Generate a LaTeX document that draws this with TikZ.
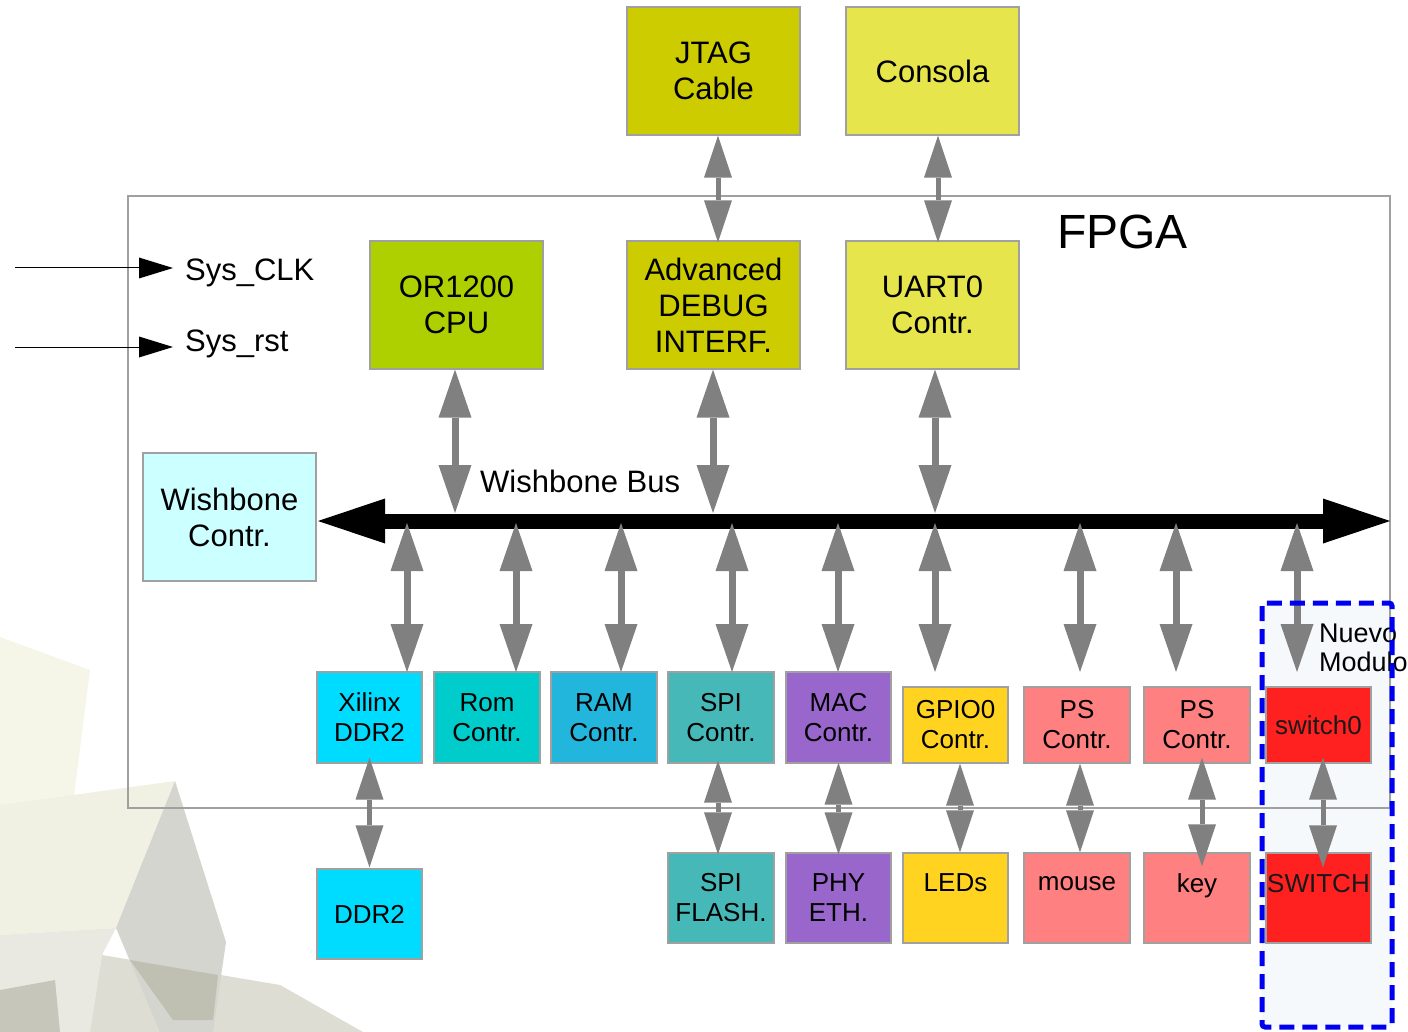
\documentclass[tikz,border=0pt]{standalone}
\usepackage{fontspec}
\setmainfont{Liberation Sans}
\usetikzlibrary{arrows.meta}
\definecolor{jtagc}{RGB}{204,204,0}
\definecolor{consc}{RGB}{230,230,76}
\definecolor{cpuc}{RGB}{174,207,0}
\definecolor{wbcc}{RGB}{204,255,255}
\definecolor{ddrc}{RGB}{0,220,255}
\definecolor{romc}{RGB}{0,204,204}
\definecolor{ramc}{RGB}{35,182,220}
\definecolor{spic}{RGB}{71,184,184}
\definecolor{macc}{RGB}{153,102,204}
\definecolor{gpioc}{RGB}{255,211,32}
\definecolor{psc}{RGB}{255,128,128}
\definecolor{swc}{RGB}{255,32,32}
\definecolor{arrc}{RGB}{128,128,128}
\definecolor{linec}{RGB}{160,160,160}
\definecolor{nuevofill}{RGB}{245,249,251}
\definecolor{nuevoline}{RGB}{0,0,240}
\definecolor{bgA}{RGB}{245,245,232}
\definecolor{bgB}{RGB}{241,241,227}
\definecolor{bgC}{RGB}{212,213,206}
\definecolor{bgD}{RGB}{221,221,211}
\definecolor{bgE}{RGB}{191,191,178}
\definecolor{bgF}{RGB}{198,198,186}
\definecolor{bgG}{RGB}{233,233,225}
\newcommand\fbig{\fontsize{31pt}{36pt}\selectfont}
\newcommand\fsmall{\fontsize{26pt}{30pt}\selectfont}
\begin{document}
\begin{tikzpicture}[x=1pt,y=-1pt,
  box/.style={draw=linec,line width=1.2pt,inner sep=0pt,align=center},
  bigbox/.style={box,font=\fbig,minimum width=173pt,minimum height=128pt},
  smallbox/.style={box,font=\fsmall,minimum width=106pt},
  busarr/.style={line width=15pt,black,{Triangle[length=67pt,width=45pt,line width=0pt]}-{Triangle[length=67pt,width=45pt,line width=0pt]}},
  bigarr/.style={line width=7pt,arrc,{Triangle[length=48pt,width=33pt,line width=0pt]}-{Triangle[length=48pt,width=33pt,line width=0pt]}},
  smallarr/.style={line width=5pt,arrc,{Triangle[length=42pt,width=28pt,line width=0pt]}-{Triangle[length=42pt,width=28pt,line width=0pt]}},
  sigarr/.style={line width=1pt,black,-{Triangle[length=34pt,width=21pt,line width=0pt]}},
  lbl/.style={inner sep=0pt,font=\fbig}]
\useasboundingbox (0,0) rectangle (1408,1032);
% decorative background
\fill[bgA] (0,637) -- (90,670) -- (62,891) -- (0,880) -- cycle;
\fill[bgB] (0,805) -- (175,781) -- (116,928) -- (0,935) -- cycle;
\fill[bgG] (0,935) -- (116,928) -- (102,955) -- (90,1032) -- (0,1032) -- cycle;
\fill[bgD] (102,955) -- (280,985) -- (363,1032) -- (90,1032) -- cycle;
\fill[bgC] (175,781) -- (226,942) -- (213,1032) -- (160,1032) -- (116,928) -- cycle;
\fill[bgE] (130,960) -- (218,975) -- (213,1020) -- (173,1020) -- cycle;
\fill[bgF] (0,990) -- (55,980) -- (60,1032) -- (0,1032) -- cycle;
% nuevo modulo fill
\fill[nuevofill] (1262,603) rectangle (1392,1027);
% FPGA
\node[draw=linec,line width=1.2pt,minimum width=1262pt,minimum height=612pt,inner sep=0pt] (fpga) at (759,502) {};
\node[inner sep=0pt,font=\fontsize{48pt}{54pt}\selectfont,anchor=base west] (fpgalbl) at (1057,249) {FPGA};
% top boxes
\node[bigbox,fill=jtagc] (jtag) at (713.5,71) {JTAG\\Cable};
\node[bigbox,fill=consc] (consola) at (932.5,71) {Consola};
\node[bigbox,fill=cpuc] (cpu) at (456.5,305) {OR1200\\CPU};
\node[bigbox,fill=jtagc] (debug) at (713.5,305) {Advanced\\DEBUG\\INTERF.};
\node[bigbox,fill=consc] (uart) at (932.5,305) {UART0\\Contr.};
\node[bigbox,fill=wbcc] (wbc) at (229.5,517) {Wishbone\\Contr.};
% row 2
\node[smallbox,fill=ddrc,minimum height=91pt,minimum width=105pt] (xddr) at (369.5,717.5) {Xilinx\\DDR2};
\node[smallbox,fill=romc,minimum height=91pt] (rom) at (487,717.5) {Rom\\Contr.};
\node[smallbox,fill=ramc,minimum height=91pt] (ram) at (604,717.5) {RAM\\Contr.};
\node[smallbox,fill=spic,minimum height=91pt] (spi) at (721,717.5) {SPI\\Contr.};
\node[smallbox,fill=macc,minimum height=91pt,minimum width=105pt] (mac) at (838.5,717.5) {MAC\\Contr.};
\node[smallbox,fill=gpioc,minimum height=76pt,minimum width=105pt] (gpio) at (955.5,725) {GPIO0\\Contr.};
\node[smallbox,fill=psc,minimum height=76pt] (ps1) at (1077,725) {PS\\Contr.};
\node[smallbox,fill=psc,minimum height=76pt] (ps2) at (1197,725) {PS\\Contr.};
\node[smallbox,fill=swc,minimum height=76pt,minimum width=105pt,text=black!90] (sw0) at (1318.5,725) {switch0};
% row 3
\node[smallbox,fill=ddrc,minimum height=90pt,minimum width=105pt] (ddr) at (369.5,914) {DDR2};
\node[smallbox,fill=spic,minimum height=90pt] (spiflash) at (721,898) {SPI\\FLASH.};
\node[smallbox,fill=macc,minimum height=90pt,minimum width=105pt] (phy) at (838.5,898) {PHY\\ETH.};
\node[smallbox,fill=gpioc,minimum height=90pt,minimum width=105pt] (leds) at (955.5,898) {LEDs\\\mbox{}};
\node[smallbox,fill=psc,minimum height=90pt] (mouse) at (1077,898) {mouse\\\mbox{}};
\node[smallbox,fill=psc,minimum height=90pt] (key) at (1197,898) {key\\\mbox{}};
\node[smallbox,fill=swc,minimum height=90pt,minimum width=105pt,text=black!90] (switch) at (1318.5,898) {SWITCH\\\mbox{}};
% labels
\node[lbl,anchor=base west] (sysclk) at (185,280) {Sys\_CLK};
\node[lbl,anchor=base west] (sysrst) at (185,351) {Sys\_rst};
\node[lbl,anchor=base west] (wbbus) at (480,492) {Wishbone Bus};
\node[inner sep=0pt,font=\fontsize{27pt}{29pt}\selectfont,align=left,anchor=west] (nuevo) at (1319,648) {Nuevo\\Modulo};
% signal inputs
\coordinate (clkin) at (15,268);
\coordinate (clkend) at (173,268);
\coordinate (rstin) at (15,347);
\coordinate (rstend) at (173,347);
\draw[sigarr] (clkin) -- (clkend);
\draw[sigarr] (rstin) -- (rstend);
% bus
\coordinate (busL) at (318,521);
\coordinate (busR) at (1390,521);
\draw[busarr] (busL) -- (busR);
% upper arrows to bus
\coordinate (bu1) at (455,513);
\coordinate (bu2) at (713,513);
\coordinate (bu3) at (935,513);
\draw[bigarr] (cpu.south -| bu1) -- (bu1);
\draw[bigarr] (debug.south -| bu2) -- (bu2);
\draw[bigarr] (uart.south -| bu3) -- (bu3);
% external top arrows
\draw[smallarr] ([xshift=4.5pt]jtag.south) -- ([xshift=4.5pt,yshift=-2pt]debug.north);
\draw[smallarr] ([xshift=5.5pt]consola.south) -- ([xshift=5.5pt,yshift=-2pt]uart.north);
% lower bus arrows
\foreach \n/\x in {a/407,b/516,c/621,d/732,e/838,f/935,g/1080,h/1176,i/1297}{
  \coordinate (bt\n) at (\x,523);
  \coordinate (bd\n) at (\x,672);
}
\draw[bigarr] (bta) -- (bda);
\draw[bigarr] (btb) -- (bdb);
\draw[bigarr] (btc) -- (bdc);
\draw[bigarr] (btd) -- (bdd);
\draw[bigarr] (bte) -- (bde);
\draw[bigarr] (btf) -- (bdf);
\draw[bigarr] (btg) -- (bdg);
\draw[bigarr] (bth) -- (bdh);
\draw[bigarr] (bti) -- (bdi);
% bottom arrows
\draw[smallarr] ([yshift=6pt]xddr.south) -- ([yshift=1pt]ddr.north);
\draw[smallarr] ([xshift=-3pt,yshift=3pt]spi.south) -- ([xshift=-3pt,yshift=-2pt]spiflash.north);
\draw[smallarr] ([yshift=1pt]mac.south) -- ([yshift=-2pt]phy.north);
\draw[smallarr] ([xshift=4.5pt]gpio.south) -- ([xshift=4.5pt]leds.north);
\draw[smallarr] ([xshift=3pt]ps1.south) -- ([xshift=3pt]mouse.north);
\draw[smallarr] ([xshift=5pt,yshift=6pt]ps2.south) -- ([xshift=5pt,yshift=-14pt]key.north);
\draw[smallarr] ([xshift=4.5pt,yshift=6pt]sw0.south) -- ([xshift=4.5pt,yshift=-15pt]switch.north);
% nuevo modulo border
\draw[nuevoline,line width=5pt,dash pattern=on 15pt off 8pt,rounded corners=3pt] (1262,603) rectangle (1392,1027);
\end{tikzpicture}
\end{document}
